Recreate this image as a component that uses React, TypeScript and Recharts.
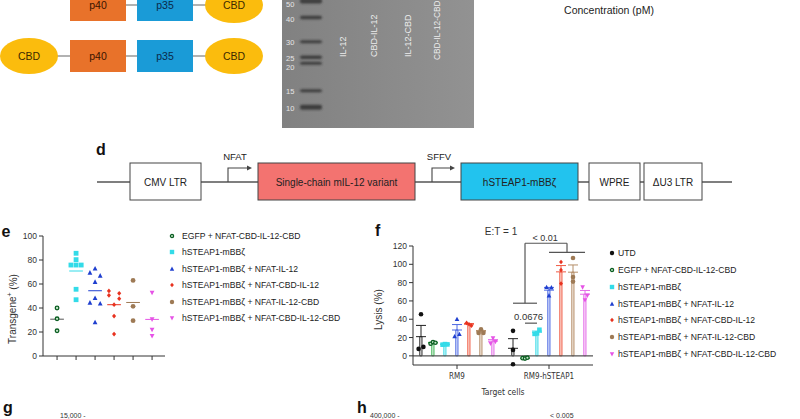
import React from 'react';
import {
  ScatterChart,
  ComposedChart,
  Scatter,
  Bar,
  Cell,
  ErrorBar,
  XAxis,
  YAxis,
  ReferenceLine,
  ReferenceDot,
} from 'recharts';

const FONT = '"Liberation Sans", Arial, Helvetica, sans-serif';
const INK = '#333';

// ---- panel e: transgene+ (%) per construct ----
const eGroups = [
  'EGFP + NFAT-CBD-IL-12-CBD',
  'hSTEAP1-mBBζ',
  'hSTEAP1-mBBζ + NFAT-IL-12',
  'hSTEAP1-mBBζ + NFAT-CBD-IL-12',
  'hSTEAP1-mBBζ + NFAT-IL-12-CBD',
  'hSTEAP1-mBBζ + NFAT-CBD-IL-12-CBD',
];
const eValues = [
  [40, 31, 21],
  [85.6, 80.3, 75.8, 75.8, 75.8, 55.6, 46.9],
  [72.8, 69.4, 66.9, 61.7, 48.3, 44.4, 43.6, 28],
  [54.2, 50.6, 52.2, 47.8, 42.8, 33.3, 18.3],
  [63, 41.4, 29.4],
  [52.8, 30.6, 21.9, 16.7],
];
// lane of each point inside its column (-1 left, 0 middle, 1 right)
const eSlots = [
  [0, 0, 0],
  [0, 0, -1, 0, 1, 0, 0],
  [0, -1, 1, 0, 0, -1, 1, 0],
  [-1, -1, 1, 1, 0, 0, 0],
  [0, 0, 0],
  [0, 0, 0, 0],
];
const eTicks = [0, 20, 40, 60, 80, 100];

// ---- panel f: lysis (%) at E:T = 1 ----
const fTargets = ['RM9', 'RM9-hSTEAP1'];
const fConditions = ['UTD', ...eGroups];
const fLysisRM9 = [
  [45.5, 7.6, 9.8],
  [13.2, 15, 14.3],
  [12.2, 12.8, 12.5],
  [40, 21.1, 23.6],
  [36, 34.5, 33],
  [29, 25, 25],
  [19.3, 13.5, 15.3],
];
const fLysisSTEAP1 = [
  [27.3, 6.5, -9.1],
  [-2.5, -3, -2],
  [24, 28.5, 24.5],
  [75, 74.5, 65.8],
  [102.5, 93.8, 78.9],
  [106.9, 86.2, 81.1],
  [75, 66, 61],
];
const fSlotsRM9 = [[0, -1, 1], [-1, 0, 1], [-1, 0, 1], [0, -1, 1], [-1, 0, 1], [0, -1, 1], [0, -1, 1]];
const fSlotsSTEAP1 = [[0, 0, 0], [-1, 0, 1], [-1, 1, 0], [-1, 1, 0], [0, 0, 0], [0, 0, 0], [-1, 1, 0]];
const fTicks = [0, 20, 40, 60, 80, 100, 120];
const fPValues = ['< 0.01', '0.0676'];

// ---- gel ----
const gelLadder = ['50', '40', '30', '25', '20', '15', '10'];
const gelLanes = ['IL-12', 'CBD-IL-12', 'IL-12-CBD', 'CBD-IL-12-CBD'];

type Kind = 'dot' | 'ring' | 'square' | 'tri' | 'tridown' | 'diamond';
interface Sty { kind: Kind; color: string; inner?: string; bar: string; fill: string }

const condStyles: Sty[] = [
  { kind: 'dot', color: '#111', bar: '#222', fill: '#ffffff' },
  { kind: 'ring', color: '#0b5e22', inner: '#c4e6c8', bar: '#38b24e', fill: '#eef9ef' },
  { kind: 'square', color: '#33dbe8', bar: '#45dce8', fill: '#c8f5f8' },
  { kind: 'tri', color: '#1f3fcf', bar: '#4c68e2', fill: '#e6ebff' },
  { kind: 'diamond', color: '#e8321f', bar: '#f05a44', fill: '#fde4de' },
  { kind: 'dot', color: '#9e7a55', bar: '#b48e68', fill: '#f6eee5' },
  { kind: 'tridown', color: '#e653e6', bar: '#e46ce8', fill: '#fbe6fb' },
];
const eStyles = condStyles.slice(1);

const avg = (a: number[]) => a.reduce((s, v) => s + v, 0) / a.length;
const sem = (a: number[]) => {
  const m = avg(a);
  const sd = Math.sqrt(a.reduce((s, v) => s + (v - m) ** 2, 0) / (a.length - 1));
  return sd / Math.sqrt(a.length);
};

function Marker({ kind, x, y, s, color, inner }: { kind: Kind; x: number; y: number; s: number; color: string; inner?: string }) {
  const h = s / 2;
  switch (kind) {
    case 'ring':
      return <circle cx={x} cy={y} r={h - 0.6} fill={inner || '#fff'} stroke={color} strokeWidth={1.3} />;
    case 'square':
      return <rect x={x - h} y={y - h} width={s} height={s} fill={color} />;
    case 'tri':
      return <polygon points={`${x},${y - h * 1.1} ${x + h},${y + h * 0.8} ${x - h},${y + h * 0.8}`} fill={color} />;
    case 'tridown':
      return <polygon points={`${x},${y + h * 1.1} ${x + h},${y - h * 0.8} ${x - h},${y - h * 0.8}`} fill={color} />;
    case 'diamond':
      return <polygon points={`${x},${y - h} ${x + h * 0.85},${y} ${x},${y + h} ${x - h * 0.85},${y}`} fill={color} />;
    default:
      return <circle cx={x} cy={y} r={h} fill={color} />;
  }
}

// ---------- panel e ----------
const E_JIT = 0.27;
const eData = eValues.map((vals, g) => vals.map((v, i) => ({ x: g + 1 + eSlots[g][i] * E_JIT, y: v })));
const eMeans = eValues.map(avg);

function ELabel(props: any) {
  const vb = props.viewBox || { x: 0, y: 11, height: 120 };
  const x = vb.x + 12.7;
  const y = vb.y + vb.height / 2 + 13;
  return (
    <text x={x} y={y} transform={`rotate(-90 ${x} ${y})`} textAnchor="middle" dominantBaseline="central"
      fontSize={10} fill={INK} fontFamily={FONT}>
      Transgene<tspan dy={-3.5} fontSize={7}>+</tspan><tspan dy={3.5}> (%)</tspan>
    </text>
  );
}

function PanelE() {
  return (
    <ScatterChart width={170} height={145} margin={{ top: 11, right: 5, bottom: 0, left: 0 }}>
      <XAxis type="number" dataKey="x" domain={[0.26, 6.68]} ticks={[1, 2, 3, 4, 5, 6]}
        tickFormatter={() => ''} axisLine={{ stroke: INK }} tickLine={{ stroke: INK }} tickSize={4} height={14} />
      <YAxis type="number" domain={[0, 100]} ticks={eTicks} width={43} axisLine={{ stroke: INK }}
        tickLine={{ stroke: INK }} tickSize={4} tickMargin={2}
        tick={{ fontSize: 8.5, fill: INK, fontFamily: FONT }} label={{ content: ELabel }} />
      {eMeans.map((m, g) => (
        <ReferenceLine key={'m' + g} segment={[{ x: g + 1 - 0.36, y: m }, { x: g + 1 + 0.36, y: m }]}
          stroke={g === 0 ? '#555' : eStyles[g].color} strokeWidth={1} />
      ))}
      {eData.map((d, g) => (
        <Scatter key={'s' + g} data={d} dataKey="y" isAnimationActive={false}
          shape={(p: any) => (
            <Marker kind={eStyles[g].kind} x={p.cx} y={p.cy} s={4.8} color={eStyles[g].color} inner={eStyles[g].inner} />
          )} />
      ))}
    </ScatterChart>
  );
}

// ---------- panel f ----------
const GROUP_STEP = fConditions.length + 0.667;
const F_JIT = 0.2;
const fGroups = [fLysisRM9, fLysisSTEAP1];
const fSlots = [fSlotsRM9, fSlotsSTEAP1];
const barX = (g: number, j: number) => g * GROUP_STEP + j;
const fBars = fGroups.flatMap((grp, g) =>
  grp.map((vals, j) => {
    const m = avg(vals);
    const e = sem(vals);
    return { x: barX(g, j), mean: m, err: m >= 0 ? [0, e] : [e, 0], cond: j };
  })
);
const fPoints = fConditions.map((_, j) =>
  fGroups.flatMap((grp, g) => grp[j].map((v, i) => ({ x: barX(g, j) + fSlots[g][j][i] * F_JIT, y: v })))
);
const groupCenter = (g: number) => barX(g, (fConditions.length - 1) / 2);

// bracket heights (value units)
const BR_LOW = 57.5;
const BR_TOP = 123;
const BR_RIGHT = 113;
const BR_NEAR = 35.7;

function FLabel(props: any) {
  const vb = props.viewBox || { x: 0, y: 21, height: 119 };
  const x = vb.x + 18;
  const y = vb.y + vb.height / 2 + 4;
  return (
    <text x={x} y={y} transform={`rotate(-90 ${x} ${y})`} textAnchor="middle" dominantBaseline="central"
      fontSize={10} fill={INK} fontFamily={FONT}>
      Lysis (%)
    </text>
  );
}

function PanelF() {
  const line = { stroke: '#555', strokeWidth: 1.2, ifOverflow: 'visible' as const };
  const cond = '"DejaVu Sans Condensed", "Roboto", sans-serif';
  return (
    <ComposedChart width={240} height={180} data={fBars} margin={{ top: 21, right: 7, bottom: 0, left: 0 }}>
      <XAxis type="number" dataKey="x" domain={[-0.667, 14.333]} ticks={[groupCenter(0), groupCenter(1)]}
        tickFormatter={(v: number) => fTargets[v > 7 ? 1 : 0]} axisLine={{ stroke: INK }}
        tickLine={{ stroke: INK }} tickSize={4} tickMargin={4} height={40}
        tick={{ fontSize: 8, fill: INK, fontFamily: cond }}
        label={{ value: 'Target cells', position: 'insideBottom', offset: 10, fontSize: 8.5, fill: INK, fontFamily: cond }} />
      <YAxis type="number" domain={[-10, 120]} ticks={fTicks} width={53} axisLine={{ stroke: INK }}
        tickLine={{ stroke: INK }} tickSize={4} tickMargin={2}
        tick={{ fontSize: 8.5, fill: INK, fontFamily: FONT }} label={{ content: FLabel }} />
      <Bar dataKey="mean" barSize={7} isAnimationActive={false} strokeWidth={1}>
        {fBars.map((b, i) => (
          <Cell key={i} fill={condStyles[b.cond].fill} stroke={condStyles[b.cond].bar} />
        ))}
      </Bar>
      <ReferenceLine y={0} stroke="#555" strokeWidth={1.2} />
      {fConditions.map((_, j) => (
        <Scatter key={'e' + j} data={fBars.filter((b) => b.cond === j)} dataKey="mean" isAnimationActive={false}
          shape={() => <g />}>
          <ErrorBar dataKey="err" direction="y" width={5} stroke={condStyles[j].bar} strokeWidth={1} />
        </Scatter>
      ))}
      {fPoints.map((d, j) => (
        <Scatter key={'p' + j} data={d} dataKey="y" isAnimationActive={false}
          shape={(p: any) => (
            <Marker kind={condStyles[j].kind} x={p.cx} y={p.cy} s={4.6} color={condStyles[j].color} inner={condStyles[j].inner} />
          )} />
      ))}
      {/* significance brackets */}
      <ReferenceLine segment={[{ x: barX(1, 0), y: BR_LOW }, { x: barX(1, 2), y: BR_LOW }]} {...line} />
      <ReferenceLine segment={[{ x: barX(1, 1), y: BR_LOW }, { x: barX(1, 1), y: BR_TOP }]} {...line} />
      <ReferenceLine segment={[{ x: barX(1, 1), y: BR_TOP }, { x: barX(1, 4.5), y: BR_TOP }]} {...line} />
      <ReferenceLine segment={[{ x: barX(1, 4.5), y: BR_TOP }, { x: barX(1, 4.5), y: BR_RIGHT }]} {...line} />
      <ReferenceLine segment={[{ x: barX(1, 3), y: BR_RIGHT }, { x: barX(1, 6), y: BR_RIGHT }]} {...line} />
      <ReferenceLine segment={[{ x: barX(1, 1), y: BR_NEAR }, { x: barX(1, 2), y: BR_NEAR }]} {...line} />
      <ReferenceDot x={barX(1, 2.67)} y={129} r={0} fill="none" stroke="none" ifOverflow="visible"
        label={{ value: fPValues[0], position: 'center', fontSize: 9, fill: INK, fontFamily: FONT }} />
      <ReferenceDot x={barX(1, 1.3)} y={42.9} r={0} fill="none" stroke="none" ifOverflow="visible"
        label={{ value: fPValues[1], position: 'center', fontSize: 9.5, fill: INK, fontFamily: FONT }} />
      <ReferenceDot x={6.67} y={136.4} r={0} fill="none" stroke="none" ifOverflow="visible"
        label={{ value: 'E:T = 1', position: 'center', fontSize: 10, fill: INK, fontFamily: FONT }} />
    </ComposedChart>
  );
}

function LegendList({ items, styles, left, top, rowH, gap }: { items: string[]; styles: Sty[]; left: number; top: number; rowH: number; gap: number }) {
  return (
    <div style={{ position: 'absolute', left, top, fontFamily: FONT, fontSize: 8.6, color: '#222' }}>
      {items.map((it, i) => (
        <div key={it} style={{ height: rowH, display: 'flex', alignItems: 'center', whiteSpace: 'nowrap' }}>
          <svg width={8} height={8} style={{ marginRight: gap, flex: 'none' }}>
            <Marker kind={styles[i].kind} x={4} y={4} s={4.4} color={styles[i].color} inner={styles[i].inner} />
          </svg>
          <span>{it}</span>
        </div>
      ))}
    </div>
  );
}

function Molecule({ y, leftCBD }: { y: number; leftCBD: boolean }) {
  const t = { fontSize: 10.5, textAnchor: 'middle' as const, dominantBaseline: 'central' as const, fontFamily: FONT };
  return (
    <g>
      <line x1={leftCBD ? 40 : 126} x2={230} y1={y} y2={y} stroke="#666" strokeWidth={1.2} />
      {leftCBD && (
        <g>
          <ellipse cx={29} cy={y} rx={29} ry={18} fill="#fbbc0d" />
          <text x={29} y={y} fill="#3d2a00" {...t}>CBD</text>
        </g>
      )}
      <rect x={70} y={y - 16} width={56} height={32} fill="#e8722a" />
      <text x={98} y={y} fill="#3a1400" {...t}>p40</text>
      <rect x={137} y={y - 16} width={56} height={32} fill="#1a9bd7" />
      <text x={165} y={y} fill="#0b2a4a" {...t}>p35</text>
      <ellipse cx={234} cy={y} rx={29} ry={18} fill="#fbbc0d" />
      <text x={234} y={y} fill="#3d2a00" {...t}>CBD</text>
    </g>
  );
}

function Diagrams() {
  const ladderY = [4, 19, 42, 58, 67, 91, 108];
  const bandY = [1, 17.5, 41.7, 57.3, 63.3, 90.7, 107.3];
  const bandH = [5, 3.5, 3, 3.5, 3, 3, 5];
  const laneX = [343, 374, 408, 437];
  const laneEnd = [57, 57, 57, 60];
  const laneSize = [9, 9, 9, 8.3];
  const boxes = [
    { x: 130, w: 71, label: 'CMV LTR', fill: '#fff' },
    { x: 258, w: 157, label: 'Single-chain mIL-12 variant', fill: '#f37370' },
    { x: 461, w: 117, label: 'hSTEAP1-mBBζ', fill: '#22c3ee' },
    { x: 589, w: 51, label: 'WPRE', fill: '#fff' },
    { x: 644, w: 58, label: 'ΔU3 LTR', fill: '#fff' },
  ];
  const bold = { fontFamily: FONT, fontWeight: 700, fontSize: 16, fill: '#111' };
  return (
    <svg width={800} height={419} style={{ position: 'absolute', left: 0, top: 0 }}>
      <defs>
        <linearGradient id="gel" x1="0" x2="1" y1="0" y2="0">
          <stop offset="0" stopColor="#818181" />
          <stop offset="1" stopColor="#929292" />
        </linearGradient>
        <filter id="blur" x="-20%" y="-100%" width="140%" height="300%">
          <feGaussianBlur stdDeviation="0.8" />
        </filter>
      </defs>

      <Molecule y={5} leftCBD={false} />
      <Molecule y={56} leftCBD />

      {/* gel */}
      <rect x={282} y={-2} width={192} height={130} fill="url(#gel)" />
      {bandY.map((y, i) => (
        <rect key={i} x={300} y={y - bandH[i] / 2} width={22} height={bandH[i]} rx={2} fill="#333" opacity={0.85} filter="url(#blur)" />
      ))}
      {gelLadder.map((l, i) => (
        <text key={l} x={286} y={ladderY[i]} dominantBaseline="central" fontSize={7.5} fill="#e6e6e6" fontFamily={FONT}>{l}</text>
      ))}
      {gelLanes.map((l, i) => (
        <text key={l} x={laneX[i]} y={laneEnd[i]} transform={`rotate(-90 ${laneX[i]} ${laneEnd[i]})`} dominantBaseline="central"
          fontSize={laneSize[i]} fill="#ececec" fontFamily={FONT}>{l}</text>
      ))}

      <text x={609} y={14} textAnchor="middle" fontSize={10.5} fill="#222" fontFamily={FONT}>Concentration (pM)</text>

      {/* d: construct */}
      <text x={96} y={155} {...bold}>d</text>
      <line x1={97} x2={732} y1={182} y2={182} stroke="#555" strokeWidth={1.3} />
      {boxes.map((b) => (
        <g key={b.label}>
          <rect x={b.x} y={163} width={b.w} height={37} fill={b.fill} stroke="#444" strokeWidth={1} />
          <text x={b.x + b.w / 2} y={182} textAnchor="middle" dominantBaseline="central" fontSize={10}
            fill="#222" fontFamily={FONT}>{b.label}</text>
        </g>
      ))}
      <path d="M228 182 V168 H248" fill="none" stroke="#444" strokeWidth={1.1} />
      <polygon points="252,168 247,165.5 247,170.5" fill="#444" />
      <text x={235} y={160} textAnchor="middle" fontSize={9.5} fill="#222" fontFamily={FONT}>NFAT</text>
      <path d="M432 182 V168 H451" fill="none" stroke="#444" strokeWidth={1.1} />
      <polygon points="455,168 450,165.5 450,170.5" fill="#444" />
      <text x={439} y={160} textAnchor="middle" fontSize={9.5} fill="#222" fontFamily={FONT}>SFFV</text>

      <text x={1.5} y={237} {...bold}>e</text>
      <text x={375} y={236} {...bold}>f</text>
      <text x={3} y={413} {...bold}>g</text>
      <text x={357} y={413} {...bold}>h</text>
      <text x={60} y={417.5} fontSize={7} fill={INK} fontFamily={FONT}>15,000 -</text>
      <text x={370} y={417.5} fontSize={7} fill={INK} fontFamily={FONT}>400,000 -</text>
      <text x={550} y={417.5} fontSize={7} fill={INK} fontFamily={FONT}>&lt; 0.005</text>
    </svg>
  );
}

export default function App() {
  return (
    <div style={{ position: 'absolute', left: 0, top: 0, width: 800, height: 419, background: '#fff', overflow: 'hidden' }}>
      <Diagrams />
      <div style={{ position: 'absolute', left: 0, top: 225 }}>
        <PanelE />
      </div>
      <LegendList items={eGroups} styles={eStyles} left={168} top={227.4} rowH={16.5} gap={6} />
      <div style={{ position: 'absolute', left: 360, top: 225 }}>
        <PanelF />
      </div>
      <LegendList items={fConditions} styles={condStyles} left={608} top={244.9} rowH={16.8} gap={2} />
    </div>
  );
}
